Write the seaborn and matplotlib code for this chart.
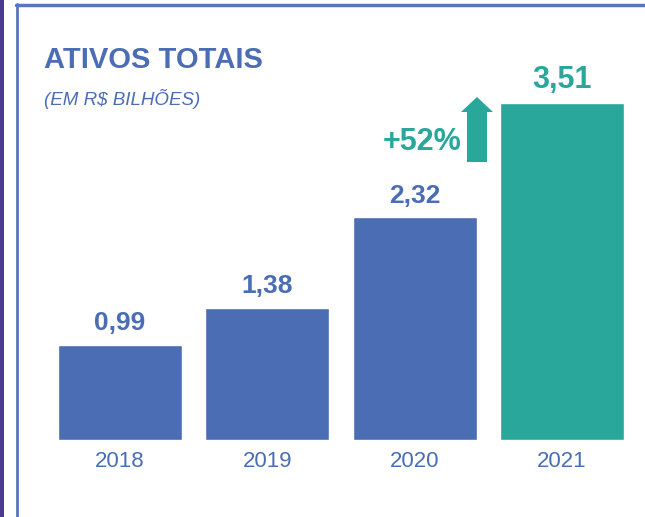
import matplotlib
matplotlib.use("Agg")
import matplotlib.pyplot as plt
import seaborn as sns
import pandas as pd
from matplotlib import font_manager
from matplotlib.patches import Polygon, Rectangle
from matplotlib.lines import Line2D

# ---- data ----
years = ["2018", "2019", "2020", "2021"]
values = [0.99, 1.38, 2.32, 3.51]
value_labels = ["0,99", "1,38", "2,32", "3,51"]
title = "ATIVOS TOTAIS"
subtitle = "(EM R$ BILHÕES)"
growth_label = "+52%"

BLUE = "#4a6db4"
TEAL = "#29a79b"
PURPLE = "#4b3a8f"
FRAME = "#5677c0"
bar_colors = [BLUE, BLUE, BLUE, TEAL]

sns.set_theme(style="white")
names = {f.name for f in font_manager.fontManager.ttflist}
narrow = "Liberation Sans Narrow" if "Liberation Sans Narrow" in names else "Liberation Sans"
plt.rcParams["font.family"] = [narrow, "DejaVu Sans"]

W, H = 645, 517
fig = plt.figure(figsize=(W / 100, H / 100), dpi=100)
fig.patch.set_facecolor("white")

def fx(px):
    return px / W

def fy(py):
    return 1 - py / H

# axes placement
ax_left, ax_right, ax_top, ax_bottom = 46.4, 635.6, 97, 440
ax = fig.add_axes([fx(ax_left), fy(ax_bottom), fx(ax_right - ax_left), (ax_bottom - ax_top) / H])

df = pd.DataFrame({"year": years, "value": values})
sns.barplot(data=df, x="year", y="value", hue="year", palette=bar_colors,
            legend=False, width=0.84, saturation=1, ax=ax)
ax.set_ylim(0, 3.573)
ax.set_xlim(-0.5, 3.5)
for s in ax.spines.values():
    s.set_visible(False)
ax.set_yticks([])
ax.set_xlabel("")
ax.set_ylabel("")
ax.tick_params(axis="x", length=0, pad=8, labelsize=16, labelcolor=BLUE)
ax.set_facecolor("none")

# value labels
for i, (v, lab) in enumerate(zip(values, value_labels)):
    last = i == len(values) - 1
    ax.annotate(lab, (i, v), xytext=(0, 7 if not last else 6), textcoords="offset points",
                ha="center", va="bottom", fontsize=22 if last else 19,
                fontweight="bold", color=bar_colors[i])

# title / subtitle
fig.text(fx(44), fy(68), title, fontsize=21, fontweight="bold", color=BLUE,
         ha="left", va="baseline")
fig.text(fx(44), fy(105), subtitle, fontsize=13.5, fontstyle="italic", color=BLUE,
         ha="left", va="baseline")

# growth label and arrow
fig.text(fx(461), fy(150), growth_label, fontsize=22, fontweight="bold", color=TEAL,
         ha="right", va="baseline")
arrow_px = [(467, 162), (487, 162), (487, 112), (493, 112), (477, 97), (461, 112), (467, 112)]
fig.add_artist(Polygon([(fx(x), fy(y)) for x, y in arrow_px], closed=True,
                       facecolor=TEAL, edgecolor="none", transform=fig.transFigure))

# frame
fig.add_artist(Rectangle((0, 0), fx(4), 1, facecolor=PURPLE, edgecolor="none",
                         transform=fig.transFigure))
fig.add_artist(Line2D([fx(16.5), fx(16.5)], [0, fy(4)], color=FRAME, lw=2,
                      transform=fig.transFigure))
fig.add_artist(Line2D([fx(16), 1], [fy(5), fy(5)], color=FRAME, lw=2.5,
                      transform=fig.transFigure))

fig.savefig("out.png", dpi=100)
